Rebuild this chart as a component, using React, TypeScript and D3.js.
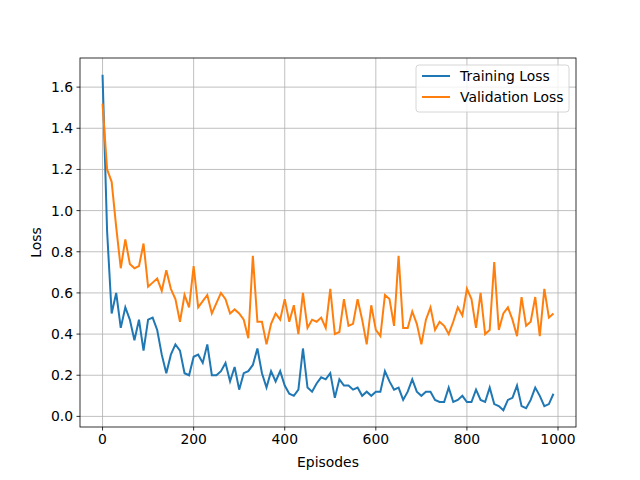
import React from "react";
import * as d3 from "d3";

const episodes = d3.range(0, 1000, 10);
const trainingLoss = [1.66,0.90,0.50,0.60,0.43,0.53,0.47,0.37,0.47,0.32,0.47,0.48,0.42,0.30,0.21,0.30,0.35,0.32,0.21,0.20,0.29,0.30,0.26,0.35,0.20,0.20,0.22,0.26,0.17,0.24,0.13,0.21,0.22,0.25,0.33,0.21,0.14,0.22,0.17,0.22,0.15,0.11,0.10,0.13,0.33,0.14,0.12,0.16,0.19,0.18,0.21,0.09,0.18,0.15,0.15,0.13,0.14,0.10,0.12,0.10,0.12,0.12,0.22,0.17,0.13,0.14,0.08,0.12,0.18,0.12,0.10,0.12,0.12,0.08,0.07,0.07,0.14,0.07,0.08,0.10,0.07,0.07,0.13,0.08,0.07,0.14,0.06,0.05,0.03,0.08,0.09,0.15,0.05,0.04,0.08,0.14,0.10,0.05,0.06,0.11];
const validationLoss = [1.52,1.20,1.14,0.92,0.72,0.86,0.74,0.72,0.73,0.84,0.63,0.65,0.67,0.61,0.71,0.62,0.57,0.46,0.59,0.53,0.73,0.53,0.56,0.59,0.50,0.55,0.60,0.57,0.50,0.52,0.50,0.47,0.38,0.78,0.46,0.46,0.35,0.45,0.50,0.47,0.57,0.46,0.54,0.40,0.60,0.43,0.47,0.46,0.48,0.43,0.62,0.40,0.41,0.57,0.44,0.45,0.57,0.47,0.35,0.54,0.42,0.39,0.59,0.57,0.44,0.78,0.43,0.43,0.51,0.45,0.35,0.47,0.53,0.42,0.46,0.44,0.40,0.46,0.53,0.49,0.62,0.57,0.43,0.60,0.40,0.42,0.75,0.42,0.50,0.53,0.47,0.39,0.58,0.44,0.46,0.58,0.39,0.62,0.48,0.50];
const xTicks = [0, 200, 400, 600, 800, 1000];
const yTicks = [0, 0.2, 0.4, 0.6, 0.8, 1.0, 1.2, 1.4, 1.6];
const seriesNames = ["Training Loss", "Validation Loss"];
const colors = ["#1f77b4", "#ff7f0e"];

export default function App() {
  const L = 80, R = 576, T = 58, B = 427;
  const x = d3.scaleLinear().domain([-49.5, 1039.5]).range([L, R]);
  const y = d3.scaleLinear().domain([-0.0515, 1.7415]).range([B, T]);
  const line = (vals: number[]) =>
    d3.line<number>().x((_, i) => x(episodes[i])).y((v) => y(v))(vals) || "";
  const font = "DejaVu Sans, sans-serif";
  return (
    <svg width={640} height={480} style={{ position: "absolute", left: 0, top: 0 }} fontFamily={font}>
      <rect width={640} height={480} fill="white" />
      {xTicks.map((t) => (
        <g key={"x" + t}>
          <line x1={x(t)} x2={x(t)} y1={T} y2={B} stroke="#b0b0b0" strokeWidth={0.8} />
          <line x1={x(t)} x2={x(t)} y1={B} y2={B + 3.5} stroke="black" strokeWidth={0.8} />
          <text x={x(t)} y={B + 17} fontSize={13.9} textAnchor="middle">{t}</text>
        </g>
      ))}
      {yTicks.map((t) => (
        <g key={"y" + t}>
          <line x1={L} x2={R} y1={y(t)} y2={y(t)} stroke="#b0b0b0" strokeWidth={0.8} />
          <line x1={L - 3.5} x2={L} y1={y(t)} y2={y(t)} stroke="black" strokeWidth={0.8} />
          <text x={L - 7} y={y(t) + 5} fontSize={13.9} textAnchor="end">{t.toFixed(1)}</text>
        </g>
      ))}
      <path d={line(trainingLoss)} fill="none" stroke={colors[0]} strokeWidth={2} />
      <path d={line(validationLoss)} fill="none" stroke={colors[1]} strokeWidth={2} />
      <rect x={L} y={T} width={R - L} height={B - T} fill="none" stroke="black" strokeWidth={0.8} />
      <text x={(L + R) / 2} y={467} fontSize={13.9} textAnchor="middle">Episodes</text>
      <text transform={`translate(41,${(T + B) / 2}) rotate(-90)`} fontSize={13.9} textAnchor="middle">Loss</text>
      <g>
        <rect x={416} y={65} width={153} height={47} rx={3} fill="white" fillOpacity={0.8} stroke="#cccccc" strokeWidth={0.8} />
        {seriesNames.map((n, i) => (
          <g key={n}>
            <line x1={422} x2={450} y1={76 + i * 21} y2={76 + i * 21} stroke={colors[i]} strokeWidth={2} />
            <text x={460} y={81 + i * 21} fontSize={13.9}>{n}</text>
          </g>
        ))}
      </g>
    </svg>
  );
}
